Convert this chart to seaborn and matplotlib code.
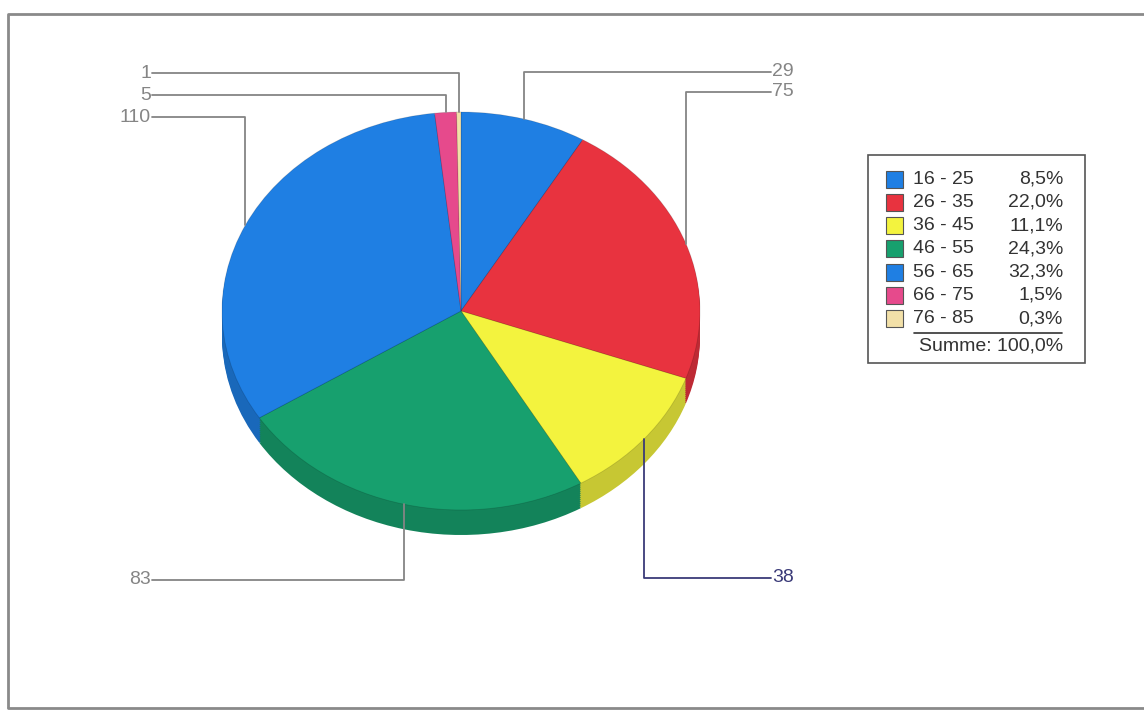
import numpy as np
import matplotlib
matplotlib.use("Agg")
import matplotlib.pyplot as plt
import seaborn as sns
from matplotlib.patches import Rectangle
from matplotlib.colors import to_rgb

# ---- data ----
categories = ["16 - 25", "26 - 35", "36 - 45", "46 - 55", "56 - 65", "66 - 75", "76 - 85"]
counts = [29, 75, 38, 83, 110, 5, 1]
percent_labels = ["8,5%", "22,0%", "11,1%", "24,3%", "32,3%", "1,5%", "0,3%"]
total_label = "Summe: 100,0%"
colors = ["#1f7fe3", "#e8333f", "#f3f33e", "#17a06e", "#1f7fe3", "#e64a8c", "#f2e0a8"]

sns.set_theme(style="white")
plt.rcParams["font.family"] = ["Liberation Sans", "DejaVu Sans"]

W, H = 1144, 719
fig = plt.figure(figsize=(W / 100, H / 100), dpi=100)
fig.patch.set_facecolor("white")

# overlay axes in pixel coordinates for frame / leaders / legend
ov = fig.add_axes([0, 0, 1, 1], zorder=3)
ov.set_xlim(0, W)
ov.set_ylim(H, 0)
ov.axis("off")
ov.patch.set_alpha(0)

# frame
ov.plot([8, 8, 1150], [708, 14, 14], color="#8a8a8a", lw=2, solid_capstyle="butt")
ov.plot([8, 1150], [708, 708], color="#8a8a8a", lw=2)

# ---- pie geometry (pixels) ----
cx, cy, rx, ry, depth = 461, 311, 239, 199, 25
d = depth / ry
left = (cx - rx) / W
bottom = 1 - (cy + ry + depth) / H
pax = fig.add_axes([left, bottom, 2 * rx / W, (2 * ry + depth) / H], zorder=2)

def darker(c, f=0.82):
    r, g, b = to_rgb(c)
    return (r * f, g * f, b * f)

side_colors = [darker(c) for c in colors]
nlayers = 12
for k in range(nlayers, 0, -1):
    off = d * k / nlayers
    pax.pie(counts, colors=side_colors, startangle=90, counterclock=False,
            center=(0, -off), radius=1, wedgeprops=dict(linewidth=0))
wedges, _ = pax.pie(counts, colors=colors, startangle=90, counterclock=False,
                    center=(0, 0), radius=1,
                    wedgeprops=dict(linewidth=0.6, edgecolor=(0, 0, 0, 0.15)))
pax.set_aspect("auto")
pax.set_xlim(-1, 1)
pax.set_ylim(-1 - d, 1)
pax.axis("off")

# ---- leader lines ----
tot = sum(counts)
cum = np.cumsum([0] + counts)
mids = [(cum[i] + cum[i + 1]) / 2 / tot * 2 * np.pi for i in range(len(counts))]
anchors = [(cx + rx * np.sin(m), cy - ry * np.cos(m)) for m in mids]

gray = "#858585"
navy = "#3a3a78"
FS = 14
layout = {
    0: ("right", 72, gray),
    1: ("right", 92, gray),
    2: ("right", 578, navy),
    3: ("left", 580, gray),
    4: ("left", 117, gray),
    5: ("left", 95, gray),
    6: ("left", 73, gray),
}
x_right_text = 772
x_left_text = 152
for i, (side, ty, col) in layout.items():
    ax_, ay_ = anchors[i]
    if side == "right":
        ov.plot([ax_, ax_, x_right_text - 1], [ay_, ty, ty], color=col, lw=1.3)
        ov.text(x_right_text, ty, str(counts[i]), ha="left", va="center",
                fontsize=FS, color=col)
    else:
        ov.plot([ax_, ax_, x_left_text], [ay_, ty, ty], color=col, lw=1.3)
        ov.text(x_left_text - 1, ty, str(counts[i]), ha="right", va="center",
                fontsize=FS, color=col)

# ---- legend box ----
bx0, by0, bx1, by1 = 868, 155, 1085, 363
ov.add_patch(Rectangle((bx0, by0), bx1 - bx0, by1 - by0, facecolor="white",
                       edgecolor="#555555", lw=1.2))
row0, dy = 179, 23.3
for i, (cat, pct) in enumerate(zip(categories, percent_labels)):
    y = row0 + i * dy
    ov.add_patch(Rectangle((886, y - 8.5), 17, 17, facecolor=colors[i],
                           edgecolor="#555555", lw=0.8))
    ov.text(913, y, cat, ha="left", va="center", fontsize=FS, color="#333333")
    ov.text(1063, y, pct, ha="right", va="center", fontsize=FS, color="#333333")
yline = row0 + 6.6 * dy
ov.plot([914, 1062], [yline, yline], color="#333333", lw=1.2)
ov.text(1063, row0 + 7.15 * dy, total_label, ha="right", va="center",
        fontsize=FS, color="#333333")

fig.savefig("out.png", dpi=100, facecolor="white")
